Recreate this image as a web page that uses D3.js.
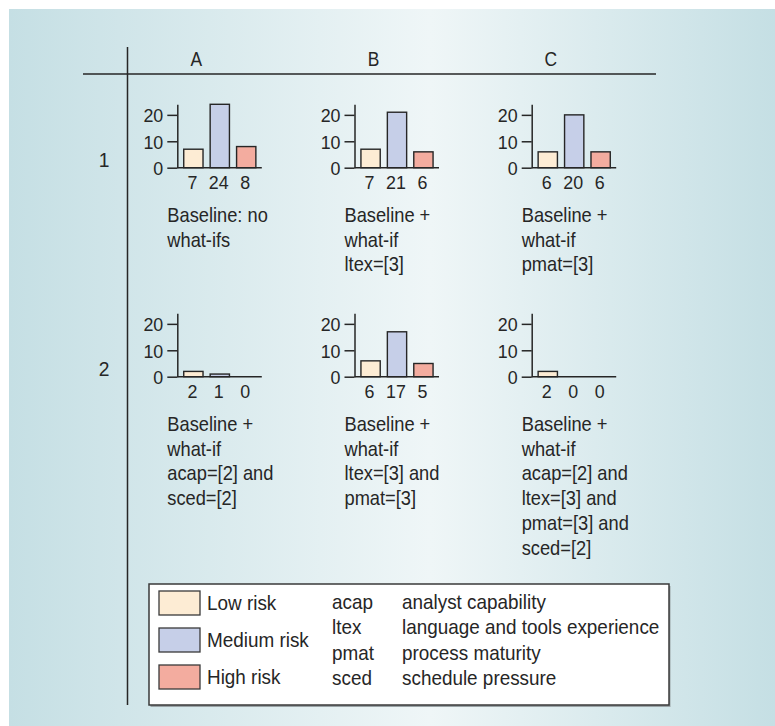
<!DOCTYPE html>
<html>
<head>
<meta charset="utf-8">
<script src="https://cdn.jsdelivr.net/npm/d3@7"></script>
<style>
  body { margin: 0; background: #fff; }
  svg text { font-family: "Liberation Sans", Arial, sans-serif; fill: #262626; }
</style>
</head>
<body>
<div id="chart"></div>
<script>
const columns = ["A", "B", "C"];
const rows = ["1", "2"];
const riskLevels = ["Low risk", "Medium risk", "High risk"];
const yTicks = [0, 10, 20];

// counts of low / medium / high risk per scenario
const row1Values = [[7, 24, 8], [7, 21, 6], [6, 20, 6]];
const row2Values = [[2, 1, 0], [6, 17, 5], [2, 0, 0]];

const row1Captions = [
  ["Baseline: no", "what-ifs"],
  ["Baseline +", "what-if", "ltex=[3]"],
  ["Baseline +", "what-if", "pmat=[3]"]
];
const row2Captions = [
  ["Baseline +", "what-if", "acap=[2] and", "sced=[2]"],
  ["Baseline +", "what-if", "ltex=[3] and", "pmat=[3]"],
  ["Baseline +", "what-if", "acap=[2] and", "ltex=[3] and", "pmat=[3] and", "sced=[2]"]
];

const abbreviations = ["acap", "ltex", "pmat", "sced"];
const abbreviationMeanings = [
  "analyst capability",
  "language and tools experience",
  "process maturity",
  "schedule pressure"
];

// no narrow font installed, so squeeze the glyphs horizontally
const NARROW = 0.87;
const LEGEND = 0.9;
const DIGITS = 0.94;

function place(sel, fx, fy, k) {
  sel.attr("transform", (d, i) => `translate(${fx(d, i)},${fy(d, i)}) scale(${k},1)`);
}

function init() {
  const width = 775, height = 726;

  const svg = d3
    .select("#chart")
    .append("svg")
    .attr("width", width)
    .attr("height", height);

  const grad = svg
    .append("defs")
    .append("linearGradient")
    .attr("id", "bg")
    .attr("x1", "0%")
    .attr("x2", "100%");
  grad.append("stop").attr("offset", "0%").attr("stop-color", "#c5dfe4");
  grad.append("stop").attr("offset", "55%").attr("stop-color", "#eff6f7");
  grad.append("stop").attr("offset", "100%").attr("stop-color", "#c5dfe4");

  svg
    .append("rect")
    .attr("x", 9)
    .attr("y", 9)
    .attr("width", width - 9)
    .attr("height", height - 9)
    .attr("fill", "url(#bg)");

  const color = d3
    .scaleOrdinal()
    .domain(riskLevels)
    .range(["#fdecd4", "#c6cfe8", "#f3ac9f"]);

  // grid of panels
  const col = d3.scalePoint().domain(columns).range([177.3, 531.7]);
  const row = d3.scalePoint().domain(rows).range([167.7, 376.7]);

  // table lines
  svg
    .append("line")
    .attr("x1", 83)
    .attr("x2", 656)
    .attr("y1", 74)
    .attr("y2", 74)
    .attr("stroke", "#262626")
    .attr("stroke-width", 1.5);
  svg
    .append("line")
    .attr("x1", 127.5)
    .attr("x2", 127.5)
    .attr("y1", 47)
    .attr("y2", 705)
    .attr("stroke", "#262626")
    .attr("stroke-width", 1.5);

  svg
    .append("g")
    .selectAll("text")
    .data(columns)
    .join("text")
    .attr("text-anchor", "middle")
    .attr("font-size", "20px")
    .text((d) => d)
    .call(place, (d) => col(d) + 19, () => 65.5, NARROW);

  svg
    .append("g")
    .selectAll("text")
    .data(rows)
    .join("text")
    .attr("text-anchor", "middle")
    .attr("font-size", "20.5px")
    .text((d) => d)
    .call(place, () => 104, (d) => row(d) - 0.5, DIGITS);

  const y = d3.scaleLinear().domain([0, 24]).range([0, -63.4]);
  const x = d3
    .scaleBand()
    .domain(riskLevels)
    .range([3, 82])
    .paddingInner(0.27)
    .paddingOuter(0.13);

  const panels = [];
  [row1Values, row2Values].forEach((vals, r) => {
    const caps = r === 0 ? row1Captions : row2Captions;
    vals.forEach((v, c) => {
      panels.push({ row: rows[r], col: columns[c], values: v, caption: caps[c] });
    });
  });

  const panel = svg
    .append("g")
    .selectAll("g")
    .data(panels)
    .join("g")
    .attr("transform", (d) => `translate(${col(d.col)},${row(d.row)})`);

  panel.each(function (d) {
    const g = d3.select(this);

    const axis = g
      .append("g")
      .call(d3.axisLeft(y).tickValues(yTicks).tickSize(10).tickSizeOuter(0).tickPadding(4));
    axis.attr("font-family", null);
    axis.select(".domain").attr("stroke", "#262626").attr("stroke-width", 1.5);
    axis.selectAll(".tick line").attr("stroke", "#262626").attr("stroke-width", 1.5);
    axis
      .selectAll(".tick text")
      .attr("font-size", "19px")
      .attr("fill", "#262626")
      .attr("x", null)
      .attr("dy", "0.36em")
      .call(place, () => -14, () => 0, DIGITS);

    g.append("line")
      .attr("x1", 0)
      .attr("x2", 84.5)
      .attr("y1", 0)
      .attr("y2", 0)
      .attr("stroke", "#262626")
      .attr("stroke-width", 1.5);

    const bars = riskLevels.map((k, i) => ({ key: k, value: d.values[i] }));

    g.selectAll("rect")
      .data(bars.filter((b) => b.value > 0))
      .join("rect")
      .attr("x", (b) => x(b.key))
      .attr("y", (b) => y(b.value))
      .attr("width", x.bandwidth())
      .attr("height", (b) => -y(b.value))
      .attr("fill", (b) => color(b.key))
      .attr("stroke", "#262626")
      .attr("stroke-width", 1.4);

    g.selectAll(".val")
      .data(bars)
      .join("text")
      .attr("class", "val")
      .attr("text-anchor", "middle")
      .attr("font-size", "19px")
      .text((b) => b.value)
      .call(place, (b) => x(b.key) + x.bandwidth() / 2 - 1, () => 21.6, DIGITS);

    g.append("g")
      .selectAll("text")
      .data(d.caption)
      .join("text")
      .attr("font-size", "21px")
      .text((t) => t)
      .call(place, () => -10, (t, i) => 54 + i * 24.8, NARROW);
  });

  // legend
  const legend = svg.append("g").attr("class", "legend");
  legend
    .append("rect")
    .attr("x", 150.5)
    .attr("y", 586)
    .attr("width", 520)
    .attr("height", 121)
    .attr("fill", "#9aa3a6");
  legend
    .append("rect")
    .attr("x", 149)
    .attr("y", 584)
    .attr("width", 520)
    .attr("height", 121)
    .attr("fill", "#fff")
    .attr("stroke", "#3a3a3a")
    .attr("stroke-width", 1.5);

  legend
    .selectAll(".key")
    .data(riskLevels)
    .join("g")
    .attr("class", "key")
    .attr("transform", (d, i) => `translate(159, ${591 + i * 37})`)
    .each(function (d) {
      d3.select(this)
        .append("rect")
        .attr("width", 41)
        .attr("height", 24)
        .attr("fill", color(d))
        .attr("stroke", "#3a3a3a")
        .attr("stroke-width", 1.3);
      d3.select(this)
        .append("text")
        .attr("font-size", "21px")
        .text(d)
        .call(place, () => 48, () => 19, LEGEND);
    });

  legend
    .selectAll(".abbr")
    .data(abbreviations)
    .join("text")
    .attr("class", "abbr")
    .attr("font-size", "21px")
    .text((d) => d)
    .call(place, () => 332, (d, i) => 609 + i * 25.3, LEGEND);

  legend
    .selectAll(".meaning")
    .data(abbreviationMeanings)
    .join("text")
    .attr("class", "meaning")
    .attr("font-size", "21px")
    .text((d) => d)
    .call(place, () => 402, (d, i) => 609 + i * 25.3, LEGEND);
}

window.addEventListener("load", init);
</script>
</body>
</html>
